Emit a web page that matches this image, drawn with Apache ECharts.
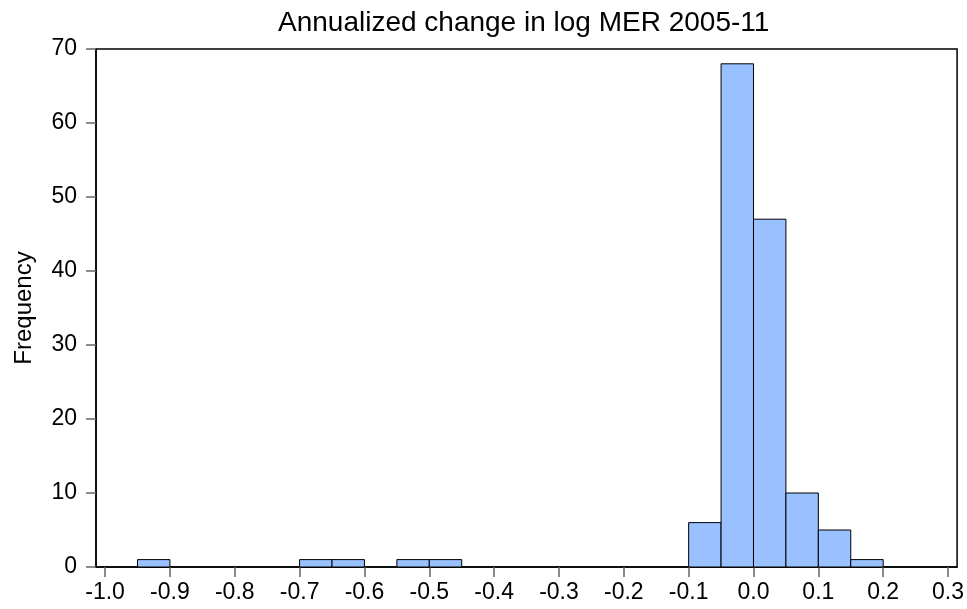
<!DOCTYPE html>
<html>
<head>
<meta charset="utf-8">
<script src="https://cdn.jsdelivr.net/npm/echarts@6/dist/echarts.min.js"></script>
<style>html,body{margin:0;padding:0;background:#fff}#c{width:967px;height:609px}</style>
</head>
<body>
<div id="c"></div>
<script>
// Histogram bins (left edge, right edge) and frequencies
const binStart = [-0.95, -0.70, -0.65, -0.55, -0.50, -0.10, -0.05, 0.00, 0.05, 0.10, 0.15];
const binEnd   = [-0.90, -0.65, -0.60, -0.50, -0.45, -0.05,  0.00, 0.05, 0.10, 0.15, 0.20];
const counts   = [1, 1, 1, 1, 1, 6, 68, 47, 10, 5, 1];
const xTicks = [-1.0, -0.9, -0.8, -0.7, -0.6, -0.5, -0.4, -0.3, -0.2, -0.1, 0.0, 0.1, 0.2, 0.3];
const yTicks = [0, 10, 20, 30, 40, 50, 60, 70];
const titleText = 'Annualized change in log MER 2005-11';
const yName = 'Frequency';

const data = binStart.map((s, i) => [s, binEnd[i], counts[i]]);
const font = 'Arial, "Liberation Sans", sans-serif';

const chart = echarts.init(document.getElementById('c'), null, {renderer: 'canvas'});
chart.setOption({
  animation: false,
  backgroundColor: '#fff',
  title: {
    text: titleText,
    left: 273, top: 4,
    textStyle: {fontFamily: font, fontSize: 28, fontWeight: 'normal', color: '#000'}
  },
  grid: {
    left: 96, right: 8, top: 49, bottom: 42,
    show: true, borderColor: '#000', borderWidth: 1.5, backgroundColor: 'transparent'
  },
  xAxis: {
    type: 'value', min: -1.014, max: 0.314,
    splitLine: {show: false},
    axisLine: {onZero: false, lineStyle: {color: '#000', width: 1.5}},
    axisTick: {show: true, length: 10, customValues: xTicks, lineStyle: {color: '#666', width: 1.5}},
    axisLabel: {customValues: xTicks, margin: 14, fontFamily: font, fontSize: 23, color: '#000',
      formatter: v => v.toFixed(1)}
  },
  yAxis: {
    type: 'value', min: 0, max: 70, interval: 10,
    name: yName, nameLocation: 'middle', nameGap: 60,
    nameTextStyle: {fontFamily: font, fontSize: 24, color: '#000'},
    splitLine: {show: false},
    axisLine: {show: true, onZero: false, lineStyle: {color: '#000', width: 1.5}},
    axisTick: {show: true, length: 10, customValues: yTicks, lineStyle: {color: '#666', width: 1.5}},
    axisLabel: {customValues: yTicks, margin: 19, fontFamily: font, fontSize: 23, color: '#000'}
  },
  series: [{
    type: 'custom',
    data: data,
    encode: {x: [0, 1], y: 2},
    renderItem: function (params, api) {
      const p0 = api.coord([api.value(0), api.value(2)]);
      const p1 = api.coord([api.value(1), 0]);
      return {
        type: 'rect',
        shape: {x: p0[0], y: p0[1], width: p1[0] - p0[0], height: p1[1] - p0[1]},
        style: {fill: '#99C0FF', stroke: '#000', lineWidth: 1}
      };
    }
  }]
});
</script>
</body>
</html>
